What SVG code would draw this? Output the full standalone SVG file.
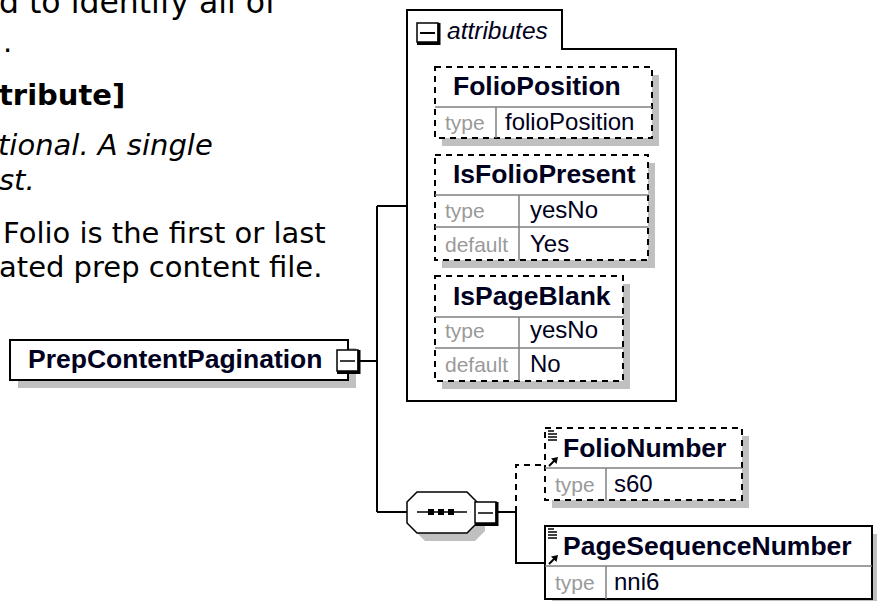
<svg xmlns="http://www.w3.org/2000/svg" width="877" height="601" viewBox="0 0 877 601">
<style>
.para{font-family:"DejaVu Sans",Verdana,sans-serif;font-size:29px;fill:#000}
.name{font-family:"Liberation Sans",Arial,sans-serif;font-weight:bold;font-size:26.5px;fill:#000020}
.lbl{font-family:"Liberation Sans",Arial,sans-serif;font-size:21px;fill:#9a9a9a}
.val{font-family:"Liberation Sans",Arial,sans-serif;font-size:24px;fill:#000020}
.box{fill:#fff;stroke:#000;stroke-width:2}
.dbox{fill:#fff;stroke:#000;stroke-width:2;stroke-dasharray:6 5}
.shadow{fill:#c0c0c0}
.div{stroke:#808080;stroke-width:1.5}
.conn{stroke:#000;stroke-width:2;fill:none}
.dash{stroke-dasharray:6 5}
.ico{fill:#fff;stroke:#000;stroke-width:1.5}
.icoedge{stroke:#000;stroke-width:3;fill:none}
</style>
<defs>
<g id="elemIcon">
<path d="M3,3h6M3,6h9M3,9h9M3,12h9" stroke="#000" stroke-width="1.3"/>
<path d="M4,38L10,32" stroke="#000" stroke-width="2"/>
<polygon points="13,29 6,30.5 11.5,36" fill="#000"/>
</g>
</defs>

<g id="text">
<text class="para" x="-1" y="13" style="font-size:31.5px">d to identify all of</text>
<text class="para" x="3" y="52">.</text>
<text class="para" x="-1" y="105" font-weight="bold">tribute]</text>
<text class="para" x="-2" y="155" font-style="italic">tional. A single</text>
<text class="para" x="-1" y="190" font-style="italic">st.</text>
<text class="para" x="3" y="243">Folio is the first or last</text>
<text class="para" x="-1" y="277">ated prep content file.</text>
</g>

<g id="connectors">
<path class="conn" d="M360,361H377M377,206V512M377,206H407M377,512H407M498,512H516M516,512V563H545"/>
<path class="conn dash" d="M516,512V465H545"/>
</g>

<g id="attributes">
<path d="M407,10H562V49H676V401H407Z" fill="#fff" stroke="#000" stroke-width="2"/>
<rect class="ico" x="417" y="23" width="21" height="19"/>
<path class="icoedge" d="M439,23V43.5H417"/>
<path d="M420,33H435" stroke="#000" stroke-width="2"/>
<text x="447" y="39" font-family="Liberation Sans,Arial,sans-serif" font-style="italic" font-size="24.5" fill="#000020">attributes</text>
</g>

<g id="FolioPosition">
<rect class="shadow" x="442" y="75" width="217" height="71"/>
<rect class="dbox" x="435" y="67" width="217" height="71"/>
<path class="div" d="M435,107H652M496,107V138"/>
<text class="name" x="453" y="95">FolioPosition</text>
<text class="lbl" x="445" y="130">type</text>
<text class="val" x="505" y="130">folioPosition</text>
</g>

<g id="IsFolioPresent">
<rect class="shadow" x="442" y="163" width="213" height="105"/>
<rect class="dbox" x="435" y="155" width="213" height="105"/>
<path class="div" d="M435,195H648M435,227H648M519,195V260"/>
<text class="name" x="453" y="183">IsFolioPresent</text>
<text class="lbl" x="445" y="218">type</text>
<text class="val" x="530" y="218">yesNo</text>
<text class="lbl" x="445" y="252">default</text>
<text class="val" x="530" y="252">Yes</text>
</g>

<g id="IsPageBlank">
<rect class="shadow" x="442" y="284" width="188" height="105"/>
<rect class="dbox" x="435" y="276" width="188" height="105"/>
<path class="div" d="M435,317H623M435,348H623M519,317V381"/>
<text class="name" x="453" y="305">IsPageBlank</text>
<text class="lbl" x="445" y="338">type</text>
<text class="val" x="530" y="338">yesNo</text>
<text class="lbl" x="445" y="372">default</text>
<text class="val" x="530" y="372">No</text>
</g>

<g id="PrepContentPagination">
<rect class="shadow" x="18" y="348" width="338" height="40"/>
<rect class="box" x="10" y="340" width="338" height="40"/>
<text class="name" x="28" y="368">PrepContentPagination</text>
<rect class="ico" x="337" y="350" width="21" height="21"/>
<path class="icoedge" d="M359,350V372.5H337"/>
<path d="M340,361H355" stroke="#000" stroke-width="1.5"/>
</g>

<g id="sequence">
<polygon class="shadow" points="415,510 425,500 475,500 485,510 485,531 475,541 425,541 415,531"/>
<polygon points="407,502 417,492 467,492 477,502 477,523 467,533 417,533 407,523" fill="#fff" stroke="#000" stroke-width="1.5"/>
<path d="M417,512H467" stroke="#000" stroke-width="1.5"/>
<rect x="428" y="509" width="6" height="6" fill="#000"/>
<rect x="438" y="509" width="6" height="6" fill="#000"/>
<rect x="448" y="509" width="6" height="6" fill="#000"/>
<rect class="ico" x="475" y="502" width="21" height="21"/>
<path class="icoedge" d="M497,502V524.5H475"/>
<path d="M478,513H493" stroke="#000" stroke-width="1.5"/>
</g>

<g id="FolioNumber">
<rect class="shadow" x="552" y="436" width="197" height="72"/>
<rect class="dbox" x="545" y="428" width="197" height="72"/>
<path class="div" d="M545,468H742M606,468V500"/>
<use href="#elemIcon" x="545" y="428"/>
<text class="name" x="563" y="457">FolioNumber</text>
<text class="lbl" x="555" y="492">type</text>
<text class="val" x="614" y="492">s60</text>
</g>

<g id="PageSequenceNumber">
<rect class="shadow" x="552" y="534" width="327" height="73"/>
<rect class="box" x="545" y="526" width="327" height="73"/>
<path class="div" d="M545,566H872M606,566V599"/>
<use href="#elemIcon" x="545" y="526"/>
<text class="name" x="563" y="555">PageSequenceNumber</text>
<text class="lbl" x="555" y="590">type</text>
<text class="val" x="614" y="590">nni6</text>
</g>
</svg>
